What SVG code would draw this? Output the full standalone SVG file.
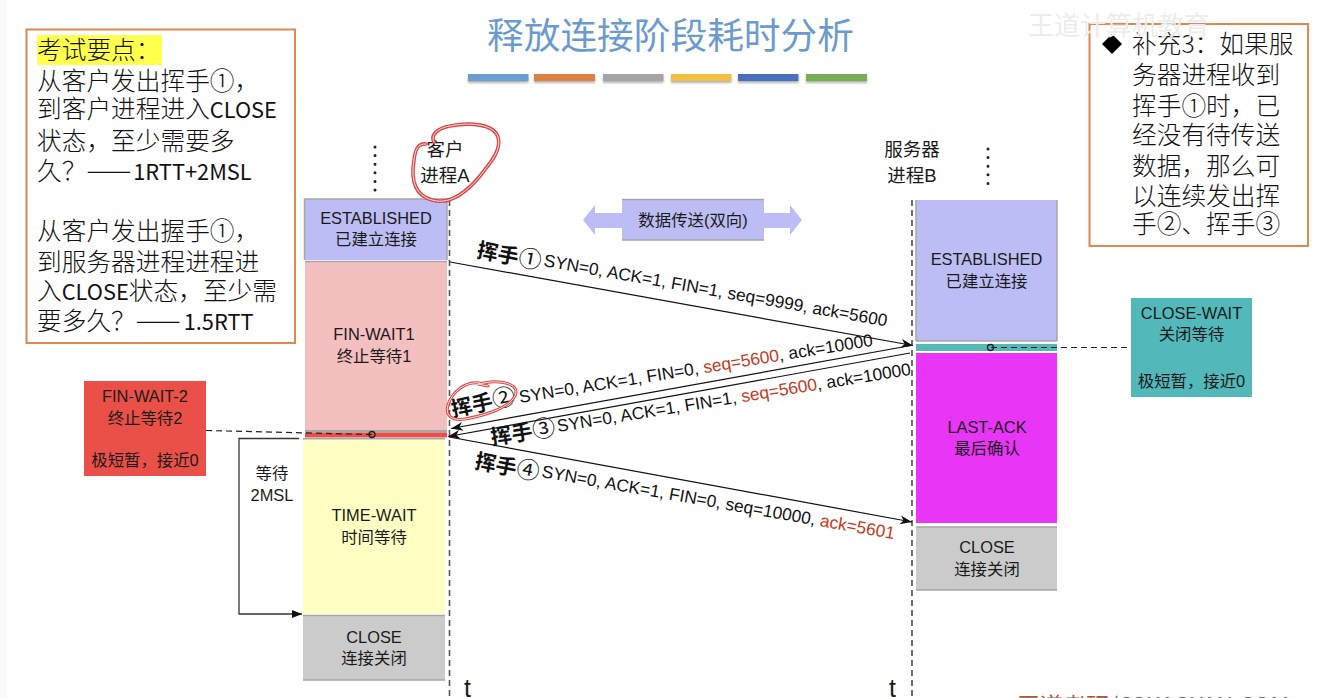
<svg xmlns="http://www.w3.org/2000/svg" width="1344" height="698" viewBox="0 0 1344 698">
<defs>
<marker id="ah" markerWidth="14" markerHeight="10" refX="12" refY="4.500" orient="auto" markerUnits="userSpaceOnUse"><path d="M0,0 L12,4.500 L0,9 L3.500,4.500 Z" fill="#111"/></marker>
<marker id="ahb" markerWidth="12" markerHeight="10" refX="10" refY="4" orient="auto" markerUnits="userSpaceOnUse"><path d="M0,0 L10,4 L0,8 Z" fill="#111"/></marker>
<filter id="sh" x="-5%" y="-50%" width="110%" height="220%"><feDropShadow dx="0" dy="2" stdDeviation="1.2" flood-color="#000" flood-opacity="0.3"/></filter>
</defs>
<style>
text{font-family:"Liberation Sans","Noto Sans CJK SC",sans-serif;fill:#1a1a1a}
.m{font-size:16.400px;text-anchor:middle}
.p{font-size:18.500px;text-anchor:middle}
.note{font-family:"Noto Sans CJK SC",sans-serif;font-size:24.700px;font-weight:300;fill:#111}
.lat{font-size:21.800px;font-weight:400}
.da{font-size:27px}
.hs{font-family:"Noto Sans CJK SC",sans-serif;font-size:21px;font-weight:700;fill:#111}
.ci{font-size:23px;font-weight:400}
.fl{font-size:17.350px;fill:#111}
.red{fill:#c8381c}
.box{fill:#fff;stroke:#dc8a50;stroke-width:2}
.dash{fill:none;stroke:#222;stroke-width:1.2;stroke-dasharray:6 4}
.life{fill:none;stroke:#555;stroke-width:1.6;stroke-dasharray:6 4}
.msg{fill:none;stroke:#111;stroke-width:1.2}
.dots{fill:none;stroke:#222;stroke-width:3;stroke-linecap:round;stroke-dasharray:0 8.6}
.edge{fill:none;stroke:#a6a6a6;stroke-width:1.5}
.ring{fill:none;stroke:#d84848;stroke-width:3.6;stroke-linecap:round}
.ringi{fill:none;stroke:#fbe4e4;stroke-width:1;stroke-linecap:round}
.dot{fill:none;stroke:#222;stroke-width:1.3}
</style>
<rect width="1344" height="698" fill="#fff"/>
<rect x="0" y="0" width="7" height="698" fill="#fafafa"/>

<g id="title">
<text x="670.500" y="49" font-size="36.700" text-anchor="middle" style="fill:#6b9bcd;font-family:'Noto Sans CJK SC',sans-serif;font-weight:400">释放连接阶段耗时分析</text>
<g filter="url(#sh)">
<rect x="468" y="74" width="60.500" height="7" fill="#6c9dd0"/>
<rect x="534" y="74" width="61" height="7" fill="#dd8043"/>
<rect x="603" y="74" width="60.500" height="7" fill="#a5a5a5"/>
<rect x="671" y="74" width="60.500" height="7" fill="#f2bf40"/>
<rect x="738" y="74" width="60.500" height="7" fill="#4a6fbd"/>
<rect x="806" y="74" width="61" height="7" fill="#78ac55"/>
</g>
</g>

<g id="note-left">
<rect class="box" x="26.500" y="29.500" width="268.500" height="313.500"/>
<rect x="37" y="35" width="125" height="30" fill="#ffff4d"/>
<text class="note" x="37" y="59">考试要点：</text>
<text class="note" x="37" y="90">从客户发出挥手①，</text>
<text class="note" x="37" y="118">到客户进程进入<tspan class="lat">CLOSE</tspan></text>
<text class="note" x="37" y="150">状态，至少需要多</text>
<text class="note" x="37" y="180">久？<tspan class="da">——</tspan><tspan class="lat" dx="2">1RTT+2MSL</tspan></text>
<text class="note" x="37" y="240">从客户发出握手①，</text>
<text class="note" x="37" y="271">到服务器进程进程进</text>
<text class="note" x="37" y="300">入<tspan class="lat">CLOSE</tspan>状态，至少需</text>
<text class="note" x="37" y="330">要多久？<tspan class="da">——</tspan><tspan class="lat" dx="3">1.5RTT</tspan></text>
</g>

<g id="note-right">
<rect class="box" x="1089.500" y="24" width="218.500" height="222"/>
<path d="M1112,34 L1122,44 L1112,54 L1102,44 Z" fill="#000"/>
<text class="note" x="1132" y="53">补充3：如果服</text>
<text class="note" x="1132" y="84">务器进程收到</text>
<text class="note" x="1132" y="115">挥手①时，已</text>
<text class="note" x="1132" y="144">经没有待传送</text>
<text class="note" x="1132" y="175">数据，那么可</text>
<text class="note" x="1132" y="205">以连续发出挥</text>
<text class="note" x="1132" y="233">手②、挥手③</text>
</g>

<g id="watermark">
<text x="1028" y="35" font-size="26" style="fill:#ececec;font-family:'Noto Sans CJK SC',sans-serif">王道计算机教育</text>
<text x="1017" y="714" font-size="23" style="fill:#a85a3c;font-family:'Noto Sans CJK SC',sans-serif">王道考研/CSKAOYAN.COM</text>
</g>

<g id="client-label">
<text class="p" x="445" y="156">客户</text>
<text class="p" x="445" y="182">进程A</text>
</g>
<g id="server-label">
<text class="p" x="912" y="156">服务器</text>
<text class="p" x="912" y="182">进程B</text>
</g>

<g id="a-established">
<rect x="304.500" y="199" width="142.500" height="61" fill="#bdbdf5"/>
<path class="edge" d="M304.500,260 V199 H447 V260"/>
<text class="m" x="376" y="224">ESTABLISHED</text>
<text class="m" x="376" y="245">已建立连接</text>
</g>
<g id="a-finwait1">
<rect x="305" y="262" width="142" height="168" fill="#f4bfbf"/>
<path class="edge" d="M305,261.500 H447"/>
<text class="m" x="374" y="340">FIN-WAIT1</text>
<text class="m" x="374" y="362">终止等待1</text>
</g>
<g id="a-finwait2-strip">
<rect x="305" y="430" width="142" height="2.500" fill="#a6a6a6"/>
<rect x="305" y="432.500" width="142" height="5" fill="#e8504a"/>
</g>
<g id="a-timewait">
<rect x="303" y="440" width="142" height="174" fill="#ffffc4"/>
<path class="edge" d="M303,438.800 H445"/>
<text class="m" x="374" y="521">TIME-WAIT</text>
<text class="m" x="374" y="543">时间等待</text>
</g>
<g id="a-close">
<rect x="303" y="616" width="142" height="64" fill="#cbcbcb"/>
<path class="edge" d="M303,615.500 H445 M303,680 H445"/>
<text class="m" x="374" y="643">CLOSE</text>
<text class="m" x="374" y="664">连接关闭</text>
</g>

<g id="b-established">
<rect x="916" y="200" width="141" height="141" fill="#bdbdf5"/>
<path class="edge" d="M916,341 V200 M1057,200 V341 M916,341 H1057"/>
<text class="m" x="986.500" y="265">ESTABLISHED</text>
<text class="m" x="986.500" y="287">已建立连接</text>
</g>
<g id="b-closewait-strip">
<rect x="916" y="344" width="141" height="7" fill="#52b8ba"/>
</g>
<g id="b-lastack">
<rect x="916" y="353" width="141" height="170" fill="#e935f5"/>
<text class="m" x="987" y="433">LAST-ACK</text>
<text class="m" x="987" y="454">最后确认</text>
</g>
<g id="b-close">
<rect x="916" y="527" width="141" height="63" fill="#cbcbcb"/>
<path class="edge" d="M916,527 H1057 M916,590 H1057"/>
<text class="m" x="987" y="553">CLOSE</text>
<text class="m" x="987" y="575">连接关闭</text>
</g>

<g id="data-transfer">
<path d="M583,220 L595,205 V213 H622 V228 H595 V235 Z M764,213 H790 V205 L802,220 L790,235 V228 H764 Z" fill="#bdbdf5"/>
<rect x="622" y="199.500" width="142" height="40.500" fill="#bdbdf5"/>
<path class="edge" d="M622,199.500 H764 M622,240 H764"/>
<text class="m" x="693" y="226">数据传送(双向)</text>
</g>

<g id="fin-wait-2">
<rect x="84" y="381" width="122" height="95" fill="#ea5048"/>
<text class="m" x="145" y="402">FIN-WAIT-2</text>
<text class="m" x="145" y="424">终止等待2</text>
<text class="m" x="145" y="466">极短暂，接近0</text>
</g>
<g id="close-wait">
<rect x="1131" y="298" width="121" height="99" fill="#52b8ba"/>
<text class="m" x="1191.500" y="319">CLOSE-WAIT</text>
<text class="m" x="1191.500" y="340">关闭等待</text>
<text class="m" x="1191.500" y="387">极短暂，接近0</text>
</g>

<g id="wait-label">
<text class="m" x="272" y="479">等待</text>
<text class="m" x="272" y="501">2MSL</text>
</g>
<g id="time-labels">
<text x="464" y="697" font-size="25">t</text>
<text x="889" y="697" font-size="25">t</text>
</g>

<g id="connectors">
<path class="life" d="M449.500,200 V698"/>
<path class="life" d="M912,200 V698" style="stroke:#222;stroke-width:1.3"/>
<path class="dots" d="M375,147 V192"/>
<path class="dots" d="M988,149 V192"/>
<path class="msg" marker-end="url(#ah)" d="M450,262 L913,345.500"/>
<path class="msg" marker-end="url(#ah)" d="M911,345.500 L451,428.500"/>
<path class="msg" marker-end="url(#ah)" d="M910,353 L448,436.500"/>
<path class="msg" marker-end="url(#ah)" d="M449,437 L912,522"/>
<path class="dash" d="M206,430.500 L372,434.500"/>
<circle class="dot" cx="372" cy="434.500" r="3"/>
<path class="dash" d="M991,347.500 H1131"/>
<circle class="dot" cx="990.500" cy="347.500" r="3"/>
<path fill="none" stroke="#333" stroke-width="1.300" marker-end="url(#ahb)" d="M299,438.500 H239 V614 H302"/>
</g>

<g id="labels">
<g transform="translate(476,257) rotate(11)"><text class="hs">挥手<tspan class="ci">①</tspan></text></g>
<g transform="translate(543,266) rotate(10)"><text class="fl">SYN=0, ACK=1, FIN=1, seq=9999, ack=5600</text></g>
<g transform="translate(453,417) rotate(-12)"><text class="hs">挥手<tspan class="ci">②</tspan></text></g>
<g transform="translate(520,403) rotate(-9.200)"><text class="fl">SYN=0, ACK=1, FIN=0, <tspan class="red">seq=5600</tspan>, ack=10000</text></g>
<g transform="translate(492,445) rotate(-9)"><text class="hs">挥手<tspan class="ci">③</tspan></text></g>
<g transform="translate(558,432) rotate(-9.200)"><text class="fl">SYN=0, ACK=1, FIN=1, <tspan class="red">seq=5600</tspan>, ack=10000</text></g>
<g transform="translate(474,468) rotate(11)"><text class="hs">挥手<tspan class="ci">④</tspan></text></g>
<g transform="translate(541,477) rotate(10)"><text class="fl">SYN=0, ACK=1, FIN=0, seq=10000, <tspan class="red">ack=5601</tspan></text></g>
</g>

<g id="annotations">
<path class="ring" d="M426,144 C418,143 415,150 414,160 C411,178 414,195 432,200 C452,206 470,188 480,176 C490,163 502,150 498,137 C494,124 470,122 450,126 C438,128 430,135 434,142"/>
<path class="ringi" d="M426,144 C418,143 415,150 414,160 C411,178 414,195 432,200 C452,206 470,188 480,176 C490,163 502,150 498,137 C494,124 470,122 450,126 C438,128 430,135 434,142"/>
<path class="ring" style="stroke-width:3" d="M480,383 C465,381 452,392 448,405 C445,416 452,421 465,419 C482,416 508,409 515,396 C520,385 505,381 490,382 L478,384 L488,386"/>
<path class="ringi" d="M480,383 C465,381 452,392 448,405 C445,416 452,421 465,419 C482,416 508,409 515,396 C520,385 505,381 490,382 L478,384 L488,386"/>
</g>
</svg>
